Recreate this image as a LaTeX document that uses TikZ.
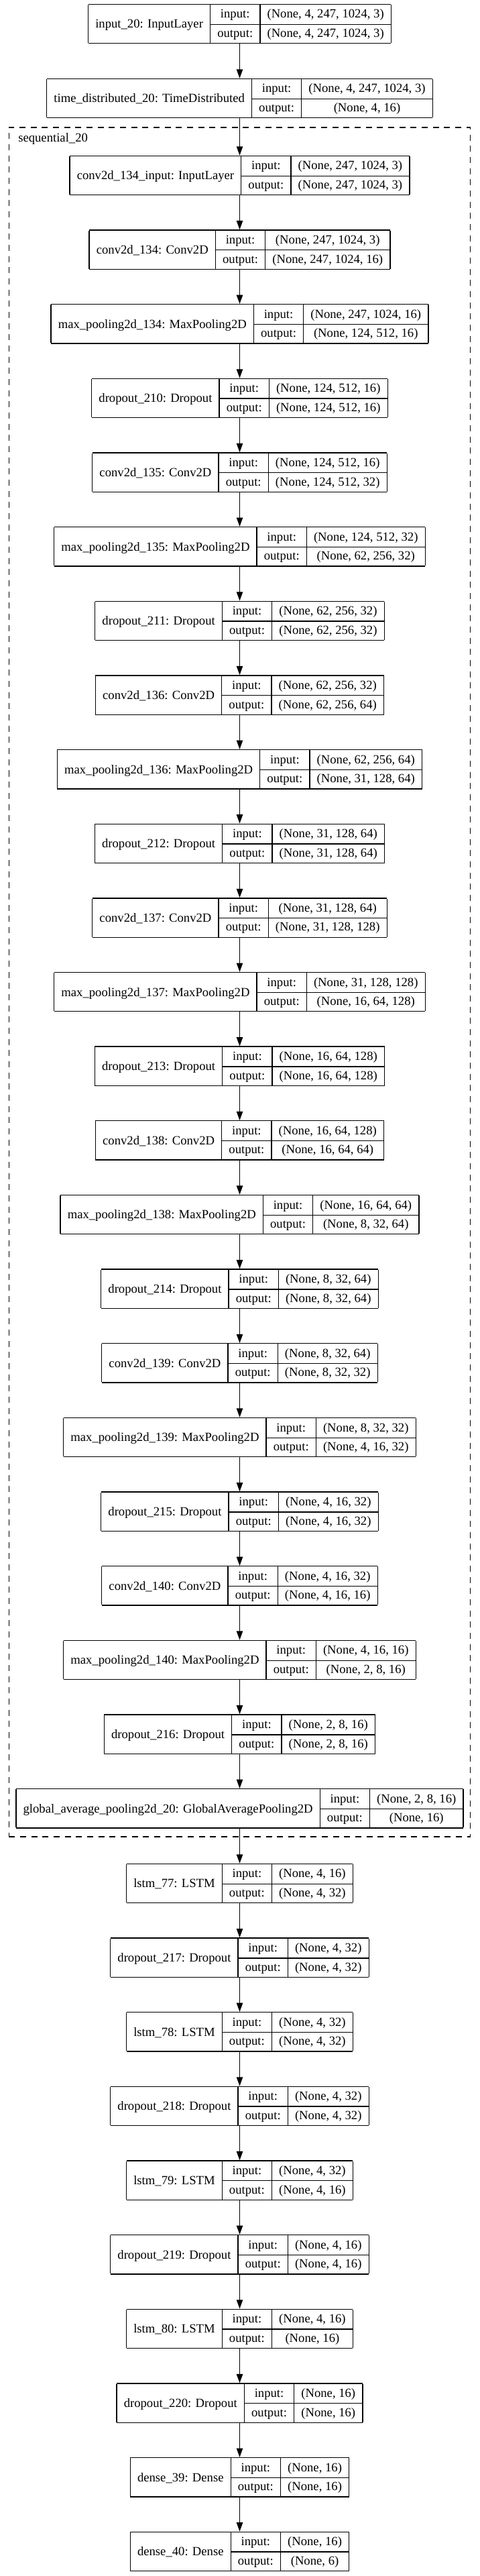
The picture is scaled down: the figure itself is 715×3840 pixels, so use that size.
\documentclass[tikz,border=0pt]{standalone}
\usepackage{fontspec}
\setmainfont{Liberation Serif}
\usepackage{tikz}
\usetikzlibrary{arrows.meta, positioning, fit}
\setlength{\arrayrulewidth}{1pt}
\setlength{\tabcolsep}{8pt}
\renewcommand{\arraystretch}{1.272}
\newcommand{\KerasLayer}[3]{%
    \begin{tabular}{|c|c|c|}
        \hline
        \raisebox{-11.19pt}[0pt][0pt]{#1} & input: & #2 \\ \cline{2-3}
        & output: & #3 \\ \hline
    \end{tabular}%
}
\tikzset{
    % Layer boxes
    layerBox/.style={inner sep=0pt, outer sep=0pt, font=\fontsize{14}{16.8}\selectfont},
    arrowEdge/.style={-{Triangle[length=10pt, width=7pt]}, line width=1pt},
    % Nested model
    clusterBox/.style={draw, dash pattern=on 6.75pt off 5.75pt, line width=1pt, inner xsep=8pt, inner ysep=0pt},
    clusterLabel/.style={anchor=base west, inner sep=0pt, font=\fontsize{14}{16.8}\selectfont}
}
\begin{document}
\begin{tikzpicture}[x=0.75pt, y=-0.75pt]
    \useasboundingbox (0,0) rectangle (715,3840);

    % Outer model, top
    \node[layerBox] (in20) at (357.5, 35.5) {\KerasLayer{input\_20: InputLayer}{(None, 4, 247, 1024, 3)}{(None, 4, 247, 1024, 3)}};
    \node[layerBox] (td20) at (357.5, 146.5) {\KerasLayer{time\_distributed\_20: TimeDistributed}{(None, 4, 247, 1024, 3)}{(None, 4, 16)}};

    % Inner sequential model
    \node[layerBox] (c134in) at (357.5, 261.5) {\KerasLayer{conv2d\_134\_input: InputLayer}{(None, 247, 1024, 3)}{(None, 247, 1024, 3)}};
    \node[layerBox] (c134) at (357.5, 372.15) {\KerasLayer{conv2d\_134: Conv2D}{(None, 247, 1024, 3)}{(None, 247, 1024, 16)}};
    \node[layerBox] (mp134) at (357.5, 482.8) {\KerasLayer{max\_pooling2d\_134: MaxPooling2D}{(None, 247, 1024, 16)}{(None, 124, 512, 16)}};
    \node[layerBox] (do210) at (357.5, 593.45) {\KerasLayer{dropout\_210: Dropout}{(None, 124, 512, 16)}{(None, 124, 512, 16)}};
    \node[layerBox] (c135) at (357.5, 704.1) {\KerasLayer{conv2d\_135: Conv2D}{(None, 124, 512, 16)}{(None, 124, 512, 32)}};
    \node[layerBox] (mp135) at (357.5, 814.75) {\KerasLayer{max\_pooling2d\_135: MaxPooling2D}{(None, 124, 512, 32)}{(None, 62, 256, 32)}};
    \node[layerBox] (do211) at (357.5, 925.4) {\KerasLayer{dropout\_211: Dropout}{(None, 62, 256, 32)}{(None, 62, 256, 32)}};
    \node[layerBox] (c136) at (357.5, 1036.05) {\KerasLayer{conv2d\_136: Conv2D}{(None, 62, 256, 32)}{(None, 62, 256, 64)}};
    \node[layerBox] (mp136) at (357.5, 1146.7) {\KerasLayer{max\_pooling2d\_136: MaxPooling2D}{(None, 62, 256, 64)}{(None, 31, 128, 64)}};
    \node[layerBox] (do212) at (357.5, 1257.35) {\KerasLayer{dropout\_212: Dropout}{(None, 31, 128, 64)}{(None, 31, 128, 64)}};
    \node[layerBox] (c137) at (357.5, 1368) {\KerasLayer{conv2d\_137: Conv2D}{(None, 31, 128, 64)}{(None, 31, 128, 128)}};
    \node[layerBox] (mp137) at (357.5, 1478.65) {\KerasLayer{max\_pooling2d\_137: MaxPooling2D}{(None, 31, 128, 128)}{(None, 16, 64, 128)}};
    \node[layerBox] (do213) at (357.5, 1589.3) {\KerasLayer{dropout\_213: Dropout}{(None, 16, 64, 128)}{(None, 16, 64, 128)}};
    \node[layerBox] (c138) at (357.5, 1699.95) {\KerasLayer{conv2d\_138: Conv2D}{(None, 16, 64, 128)}{(None, 16, 64, 64)}};
    \node[layerBox] (mp138) at (357.5, 1810.6) {\KerasLayer{max\_pooling2d\_138: MaxPooling2D}{(None, 16, 64, 64)}{(None, 8, 32, 64)}};
    \node[layerBox] (do214) at (357.5, 1921.25) {\KerasLayer{dropout\_214: Dropout}{(None, 8, 32, 64)}{(None, 8, 32, 64)}};
    \node[layerBox] (c139) at (357.5, 2031.9) {\KerasLayer{conv2d\_139: Conv2D}{(None, 8, 32, 64)}{(None, 8, 32, 32)}};
    \node[layerBox] (mp139) at (357.5, 2142.55) {\KerasLayer{max\_pooling2d\_139: MaxPooling2D}{(None, 8, 32, 32)}{(None, 4, 16, 32)}};
    \node[layerBox] (do215) at (357.5, 2253.2) {\KerasLayer{dropout\_215: Dropout}{(None, 4, 16, 32)}{(None, 4, 16, 32)}};
    \node[layerBox] (c140) at (357.5, 2363.85) {\KerasLayer{conv2d\_140: Conv2D}{(None, 4, 16, 32)}{(None, 4, 16, 16)}};
    \node[layerBox] (mp140) at (357.5, 2474.5) {\KerasLayer{max\_pooling2d\_140: MaxPooling2D}{(None, 4, 16, 16)}{(None, 2, 8, 16)}};
    \node[layerBox] (do216) at (357.5, 2585.15) {\KerasLayer{dropout\_216: Dropout}{(None, 2, 8, 16)}{(None, 2, 8, 16)}};
    \node[layerBox] (gap20) at (357.5, 2695.8) {\KerasLayer{global\_average\_pooling2d\_20: GlobalAveragePooling2D}{(None, 2, 8, 16)}{(None, 16)}};

    % Dashed frame round the inner model
    \coordinate (seqtop) at (357.5, 190);
    \coordinate (seqbottom) at (357.5, 2738);
    \node[clusterBox, fit=(gap20) (seqtop) (seqbottom)] (seq20) {};
    \node[clusterLabel] (seq20label) at (27, 211) {sequential\_20};

    % Recurrent head
    \node[layerBox] (lstm77) at (357.5, 2807.5) {\KerasLayer{lstm\_77: LSTM}{(None, 4, 16)}{(None, 4, 32)}};
    \node[layerBox] (do217) at (357.5, 2918.15) {\KerasLayer{dropout\_217: Dropout}{(None, 4, 32)}{(None, 4, 32)}};
    \node[layerBox] (lstm78) at (357.5, 3028.8) {\KerasLayer{lstm\_78: LSTM}{(None, 4, 32)}{(None, 4, 32)}};
    \node[layerBox] (do218) at (357.5, 3139.45) {\KerasLayer{dropout\_218: Dropout}{(None, 4, 32)}{(None, 4, 32)}};
    \node[layerBox] (lstm79) at (357.5, 3250.1) {\KerasLayer{lstm\_79: LSTM}{(None, 4, 32)}{(None, 4, 16)}};
    \node[layerBox] (do219) at (357.5, 3360.75) {\KerasLayer{dropout\_219: Dropout}{(None, 4, 16)}{(None, 4, 16)}};
    \node[layerBox] (lstm80) at (357.5, 3471.4) {\KerasLayer{lstm\_80: LSTM}{(None, 4, 16)}{(None, 16)}};
    \node[layerBox] (do220) at (357.5, 3582.05) {\KerasLayer{dropout\_220: Dropout}{(None, 16)}{(None, 16)}};
    \node[layerBox] (d39) at (357.5, 3692.7) {\KerasLayer{dense\_39: Dense}{(None, 16)}{(None, 16)}};
    \node[layerBox] (d40) at (357.5, 3803.35) {\KerasLayer{dense\_40: Dense}{(None, 16)}{(None, 6)}};

    % Edges
    \foreach \a/\b in {in20/td20, td20/c134in, c134in/c134, c134/mp134, mp134/do210,
        do210/c135, c135/mp135, mp135/do211, do211/c136, c136/mp136, mp136/do212,
        do212/c137, c137/mp137, mp137/do213, do213/c138, c138/mp138, mp138/do214,
        do214/c139, c139/mp139, mp139/do215, do215/c140, c140/mp140, mp140/do216,
        do216/gap20, gap20/lstm77, lstm77/do217, do217/lstm78, lstm78/do218,
        do218/lstm79, lstm79/do219, do219/lstm80, lstm80/do220, do220/d39, d39/d40}
        \draw[arrowEdge] (\a) -- (\b);
\end{tikzpicture}
\end{document}
